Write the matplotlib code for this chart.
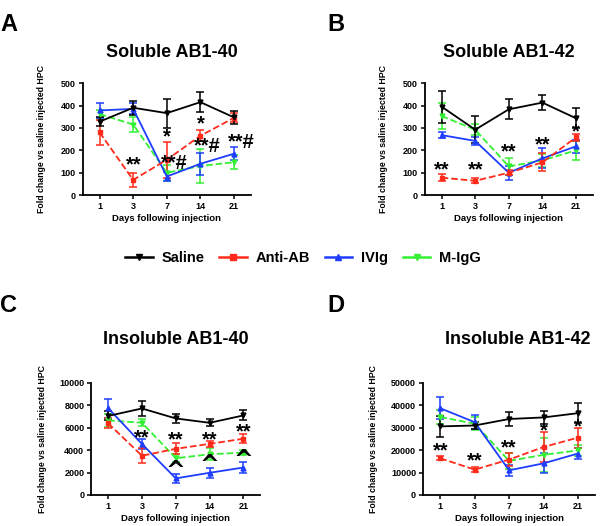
# -------------- Import Libraries --------------
import matplotlib
matplotlib.use('Agg')
import matplotlib.pyplot as plt
from matplotlib.lines import Line2D

plt.rcParams['font.family'] = ['Liberation Sans', 'DejaVu Sans']
plt.rcParams['font.weight'] = 'bold'

# -------------- Data --------------
days = ['1', '3', '7', '14', '21']
groups = ['Saline', 'Anti-AB', 'IVIg', 'M-IgG']

# panel A: Soluble AB1-40
a_mean = {'Saline': [328, 390, 366, 415, 347],
          'Anti-AB': [280, 68, 158, 265, 345],
          'IVIg': [378, 385, 83, 140, 185],
          'M-IgG': [362, 315, 100, 130, 147]}
a_err = {'Saline': [20, 32, 65, 45, 30],
         'Anti-AB': [55, 30, 80, 25, 20],
         'IVIg': [35, 25, 20, 50, 28],
         'M-IgG': [20, 35, 35, 75, 30]}

# panel B: Soluble AB1-42
b_mean = {'Saline': [395, 292, 383, 413, 343],
          'Anti-AB': [78, 64, 100, 146, 258],
          'IVIg': [268, 242, 100, 164, 218],
          'M-IgG': [353, 292, 128, 155, 200]}
b_err = {'Saline': [72, 60, 45, 32, 45],
         'Anti-AB': [15, 12, 10, 40, 15],
         'IVIg': [15, 18, 32, 45, 30],
         'M-IgG': [60, 25, 40, 30, 42]}

# panel C: Insoluble AB1-40
c_mean = {'Saline': [7050, 7720, 6830, 6440, 7100],
          'Anti-AB': [6400, 3500, 4120, 4560, 5020],
          'IVIg': [7750, 4550, 1480, 1980, 2450],
          'M-IgG': [6650, 6450, 3280, 3630, 3780]}
c_err = {'Saline': [400, 650, 420, 300, 450],
         'Anti-AB': [450, 650, 500, 300, 400],
         'IVIg': [850, 450, 400, 450, 450],
         'M-IgG': [550, 300, 350, 550, 200]}

# panel D: Insoluble AB1-42
d_mean = {'Saline': [30600, 31000, 33900, 34600, 36500],
          'Anti-AB': [16400, 11300, 15800, 21400, 25600],
          'IVIg': [38700, 32500, 11000, 14100, 18500],
          'M-IgG': [34800, 31800, 15200, 17900, 19900]}
d_err = {'Saline': [4800, 1500, 3000, 3000, 4500],
         'Anti-AB': [1000, 1200, 3000, 6500, 4500],
         'IVIg': [4800, 3000, 2500, 4500, 2500],
         'M-IgG': [3000, 3000, 3500, 7500, 2500]}

# significance marks: (day index, y, text)
a_marks = [(1, 135, '**'), (2, 262, '*'), (2.22, 140, '**#'), (3, 318, '*'),
           (3.22, 215, '**#'), (4.22, 235, '**#')]
b_marks = [(0, 112, '**'), (1, 112, '**'), (2, 192, '**'), (3, 225, '**'), (4, 282, '*')]
c_marks = [(1, 5100, '**'), (2, 4950, '**'), (3, 4950, '**'), (4, 5600, '**'),
           (2, 2100, '^'), (3, 2700, '^'), (4, 3150, '^')]
d_marks = [(0, 19500, '**'), (1, 15000, '**'), (2, 21100, '**'), (3, 28500, '*'), (4, 30500, '*')]

# -------------- Styles --------------
colors = {'Saline': 'black', 'Anti-AB': '#ff2a1a', 'IVIg': '#1f3dff', 'M-IgG': '#33f033'}
styles = {'Saline': '-', 'Anti-AB': '--', 'IVIg': '-', 'M-IgG': '--'}
markers = {'Saline': 'v', 'Anti-AB': 's', 'IVIg': '^', 'M-IgG': 'v'}
order = ['M-IgG', 'IVIg', 'Anti-AB', 'Saline']

fig = plt.figure(figsize=(6, 5.26), dpi=100)


def panel(rect, mean, err, marks, title, letter, ymax, ystep, ylab_x, title_x, title_pad):
    ax = fig.add_axes(rect)
    x = list(range(len(days)))
    for g in order:
        ax.errorbar(x, mean[g], yerr=err[g], color=colors[g], ls=styles[g], lw=1.3,
                    marker=markers[g], ms=3.5, capsize=3, elinewidth=1.1, capthick=1.1,
                    clip_on=False, zorder=3)
    for mx, my, s in marks:
        if s == '^':
            ax.text(mx, my, s, ha='center', va='center', fontsize=17, fontweight='bold',
                    fontfamily='DejaVu Sans', zorder=5)
        else:
            ax.text(mx, my, s, ha='center', va='center', fontsize=14.5, fontweight='bold', zorder=5)
    ax.set_xlim(-0.5, 4.5)
    ax.set_ylim(0, ymax)
    ax.set_yticks(range(0, ymax + 1, ystep))
    ax.set_xticks(x)
    ax.set_xticklabels(days)
    ax.spines['top'].set_visible(False)
    ax.spines['right'].set_visible(False)
    ax.spines['left'].set_linewidth(1.3)
    ax.spines['bottom'].set_linewidth(1.3)
    ax.tick_params(labelsize=6.5, width=1.1, length=3, pad=2)
    for lab in ax.get_xticklabels() + ax.get_yticklabels():
        lab.set_fontweight('bold')
    ax.set_xlabel('Days following injection', fontsize=6.8, fontweight='bold', labelpad=2)
    ax.set_ylabel('Fold change vs saline injected HPC', fontsize=6.3, fontweight='bold')
    ax.yaxis.set_label_coords(ylab_x, 0.5)
    ax.set_title(title, fontsize=13, fontweight='bold', pad=title_pad, x=title_x)
    fig.text(rect[0] + letter[1], rect[1] + letter[2], letter[0], fontsize=17,
             fontweight='bold', ha='left', va='center')
    return ax


panel([0.138, 0.629, 0.28, 0.213], a_mean, a_err, a_marks, 'Soluble AB1-40',
      ('A', -0.138, 0.325), 500, 100, -0.22, 0.53, 19)
panel([0.708, 0.629, 0.28, 0.213], b_mean, b_err, b_marks, 'Soluble AB1-42',
      ('B', -0.163, 0.325), 500, 100, -0.22, 0.5, 19)
panel([0.152, 0.059, 0.282, 0.213], c_mean, c_err, c_marks, 'Insoluble AB1-40',
      ('C', -0.152, 0.36), 10000, 2000, -0.26, 0.5, 28)
panel([0.705, 0.059, 0.287, 0.213], d_mean, d_err, d_marks, 'Insoluble AB1-42',
      ('D', -0.16, 0.36), 50000, 10000, -0.26, 0.55, 28)

# -------------- Legend --------------
handles = [Line2D([], [], color=colors[g], ls='-', lw=1.8, marker=markers[g], ms=4) for g in groups]
fig.legend(handles, groups, loc='center', bbox_to_anchor=(0.505, 1 - 258 / 526), ncol=4,
           frameon=False, handlelength=1.9, columnspacing=1.0, handletextpad=0.6,
           prop={'weight': 'bold', 'size': 10.5})

plt.savefig('out.png', dpi=100)
